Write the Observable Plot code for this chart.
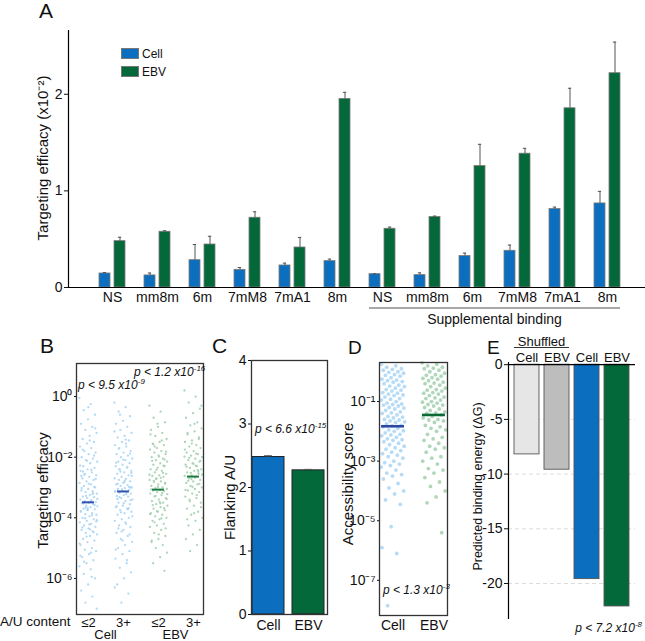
<!DOCTYPE html>
<html><head><meta charset="utf-8">
<script src="https://cdn.jsdelivr.net/npm/d3@7"></script>
<script src="https://cdn.jsdelivr.net/npm/@observablehq/plot@0.6"></script>
<style>
body{margin:0;background:#fff;}
#fig{position:relative;width:645px;height:641px;overflow:hidden;font-family:Arial,"Liberation Sans",Helvetica,sans-serif;color:#111;}
#fig svg{position:absolute;overflow:visible;}
.t{position:absolute;white-space:nowrap;line-height:1;}
.p{font-style:italic;font-size:12px;}
.p sup{font-size:8px;vertical-align:baseline;position:relative;top:-5px;}
</style></head><body><div id="fig"></div>
<script>
// ---------- Panel A data ----------
const groupLabels = ["NS","mm8m","6m","7mM8","7mA1","8m","NS","mm8m","6m","7mM8","7mA1","8m"];
const supplementalBinding = [false,false,false,false,false,false,true,true,true,true,true,true];
const cellEfficacy = [0.145,0.125,0.283,0.183,0.228,0.273,0.138,0.128,0.325,0.380,0.812,0.870];
const cellError    = [0.010,0.025,0.162,0.024,0.024,0.021,0.004,0.024,0.031,0.059,0.020,0.125];
const ebvEfficacy  = [0.480,0.577,0.445,0.722,0.414,1.952,0.608,0.729,1.257,1.385,1.855,2.218];
const ebvError     = [0.040,0.010,0.085,0.062,0.104,0.068,0.017,0.010,0.225,0.055,0.207,0.322];
const seriesNames = ["Cell","EBV"];

// ---------- Panel B data (log10 targeting efficacy) ----------
const auContent = ["≤2","3+","≤2","3+"];
const auSource = ["Cell","Cell","EBV","EBV"];
const cellLowAU = [-0.05,-0.25,-0.45,-0.6,-0.75,-0.9,-1.0,-1.1,-1.2,-1.3,-1.4,-1.5,-1.55,-1.65,-1.7,-1.8,-1.85,-1.9,-2.0,-2.05,-2.1,-2.15,-2.2,-2.3,-2.35,-2.4,-2.45,-2.5,-2.55,-2.6,-2.65,-2.7,-2.75,-2.8,-2.85,-2.9,-2.95,-3.0,-3.05,-3.1,-3.12,-3.15,-3.2,-3.25,-3.3,-3.32,-3.35,-3.4,-3.42,-3.45,-3.48,-3.5,-3.52,-3.55,-3.6,-3.62,-3.65,-3.7,-3.72,-3.75,-3.8,-3.85,-3.88,-3.9,-3.95,-4.0,-4.05,-4.1,-4.15,-4.2,-4.25,-4.3,-4.35,-4.4,-4.45,-4.5,-4.55,-4.6,-4.7,-4.75,-4.8,-4.9,-5.0,-5.05,-5.1,-5.2,-5.3,-5.4,-5.5,-5.6,-5.7,-5.85,-6.0,-6.2,-6.4,-6.6,-6.8,-7.0,
  -1.45,-1.75,-1.95,-2.12,-2.28,-2.42,-2.58,-2.72,-2.88,-3.02,-3.18,-3.28,-3.38,-3.46,-3.53,-3.58,-3.68,-3.78,-3.92,-4.02,-4.12,-4.22,-4.32,-4.48,-4.62,-4.85,-5.15,-5.45,-1.05,-0.35,-2.62,-3.22,-3.66,-4.08,-4.38,-2.48,-2.98,-3.74,-5.25,-5.95];
const cellHighAU = [-0.2,-0.35,-0.5,-0.65,-0.8,-0.9,-1.0,-1.1,-1.2,-1.3,-1.35,-1.45,-1.5,-1.6,-1.65,-1.7,-1.8,-1.85,-1.9,-1.95,-2.0,-2.05,-2.1,-2.15,-2.2,-2.25,-2.3,-2.35,-2.4,-2.45,-2.5,-2.55,-2.6,-2.65,-2.7,-2.72,-2.75,-2.8,-2.85,-2.9,-2.92,-2.95,-3.0,-3.02,-3.05,-3.08,-3.1,-3.12,-3.15,-3.18,-3.2,-3.25,-3.28,-3.3,-3.35,-3.4,-3.45,-3.5,-3.55,-3.6,-3.65,-3.7,-3.75,-3.8,-3.85,-3.9,-4.0,-4.05,-4.1,-4.2,-4.25,-4.3,-4.4,-4.5,-4.6,-4.7,-4.8,-4.9,-5.0,-5.1,-5.2,-5.35,-5.5,-5.65,-5.8,-6.0,-6.2,-6.5,-6.8,
  -1.15,-1.42,-1.72,-1.88,-2.08,-2.18,-2.32,-2.48,-2.62,-2.78,-2.88,-2.98,-3.06,-3.14,-3.22,-3.32,-3.42,-3.52,-3.62,-3.72,-3.82,-3.95,-4.15,-4.35,-4.55,-4.75,-5.05,-5.4,-0.6,-2.52,-2.82,-3.38,-3.68,-4.45,-6.3,-1.55,-2.4,-3.0];
const ebvLowAU = [-0.3,-0.5,-0.7,-0.85,-1.0,-1.1,-1.2,-1.3,-1.4,-1.5,-1.55,-1.6,-1.7,-1.75,-1.8,-1.85,-1.9,-1.95,-2.0,-2.05,-2.1,-2.15,-2.2,-2.25,-2.3,-2.35,-2.4,-2.45,-2.5,-2.55,-2.6,-2.62,-2.65,-2.7,-2.75,-2.8,-2.82,-2.85,-2.9,-2.95,-3.0,-3.02,-3.05,-3.08,-3.1,-3.12,-3.15,-3.2,-3.25,-3.3,-3.35,-3.4,-3.45,-3.5,-3.55,-3.6,-3.65,-3.7,-3.75,-3.8,-3.85,-3.9,-3.95,-4.0,-4.05,-4.1,-4.2,-4.25,-4.3,-4.4,-4.5,-4.6,-4.7,-4.8,-4.9,-5.0,-5.15,-5.3,-5.5,-5.75,
  -0.9,-1.25,-1.45,-1.65,-1.82,-1.98,-2.12,-2.28,-2.42,-2.58,-2.68,-2.78,-2.88,-2.98,-3.06,-3.18,-3.28,-3.38,-3.48,-3.58,-3.68,-3.78,-3.88,-4.02,-4.15,-4.35,-4.55,-4.75,-2.52,-2.72,-3.22,-3.52,-1.58,-2.08];
const ebvHighAU = [0.2,0.0,-0.2,-0.4,-0.55,-0.7,-0.85,-0.95,-1.05,-1.15,-1.25,-1.35,-1.45,-1.5,-1.6,-1.65,-1.7,-1.8,-1.85,-1.9,-1.95,-2.0,-2.05,-2.1,-2.15,-2.2,-2.25,-2.3,-2.35,-2.4,-2.45,-2.5,-2.55,-2.6,-2.62,-2.65,-2.7,-2.75,-2.8,-2.85,-2.9,-2.95,-3.0,-3.05,-3.1,-3.15,-3.2,-3.3,-3.35,-3.4,-3.5,-3.6,-3.7,-3.8,-3.9,-4.0,-4.1,-4.25,-4.4,-4.55,-4.7,-4.9,-5.1,
  -0.3,-0.9,-1.2,-1.4,-1.55,-1.75,-1.88,-2.02,-2.12,-2.22,-2.32,-2.42,-2.52,-2.58,-2.68,-2.78,-2.88,-2.98,-3.08,-3.25,-3.45,-3.65,-3.85,-4.05,-2.48,-2.72,-1.98,-2.28];
const auMedians = [3.24e-4, 7.4e-4, 8.5e-4, 2.29e-3];

// ---------- Panel C data ----------
const flankingAU = [2.48, 2.27];
const flankingErr = [0.02, 0.015];

// ---------- Panel D data (log10 accessibility) ----------
const accessCell = [0.25,0.2,0.15,0.1,0.08,0.05,0.0,-0.02,-0.05,-0.1,-0.12,-0.15,-0.2,-0.25,-0.28,-0.3,-0.33,-0.35,-0.4,-0.45,-0.48,-0.5,-0.55,-0.6,-0.62,-0.65,-0.7,-0.72,-0.75,-0.78,-0.8,-0.85,-0.9,-0.92,-0.95,-1.0,-1.05,-1.08,-1.1,-1.12,-1.15,-1.2,-1.22,-1.25,-1.3,-1.35,-1.38,-1.4,-1.45,-1.5,-1.52,-1.55,-1.6,-1.62,-1.65,-1.68,-1.7,-1.75,-1.8,-1.82,-1.85,-1.9,-1.95,-1.98,-2.0,-2.05,-2.1,-2.12,-2.15,-2.2,-2.25,-2.28,-2.3,-2.35,-2.4,-2.45,-2.5,-2.55,-2.6,-2.65,-2.7,-2.75,-2.8,-2.85,-2.9,-3.0,-3.05,-3.1,-3.15,-3.2,-3.3,-3.4,-3.45,-3.5,-3.6,-3.75,-3.9,-4.0,-4.1,-4.3,-4.45,-5.2,-5.9,-6.1,-7.85];
const accessEbv = [0.3,0.25,0.2,0.15,0.12,0.1,0.05,0.0,-0.05,-0.1,-0.12,-0.15,-0.2,-0.22,-0.25,-0.3,-0.35,-0.38,-0.4,-0.45,-0.5,-0.55,-0.6,-0.62,-0.65,-0.7,-0.72,-0.75,-0.8,-0.85,-0.88,-0.9,-0.95,-1.0,-1.02,-1.05,-1.1,-1.12,-1.15,-1.2,-1.25,-1.3,-1.35,-1.38,-1.4,-1.45,-1.5,-1.55,-1.6,-1.62,-1.65,-1.7,-1.8,-1.85,-1.9,-1.95,-2.0,-2.1,-2.2,-2.25,-2.3,-2.4,-2.5,-2.55,-2.6,-2.7,-2.85,-2.9,-3.0,-3.1,-3.25,-3.3,-3.4,-3.55,-3.7,-3.85,-4.0,-4.2,-4.4,-5.4];
const accessMedians = [0.0148, 0.0355];

// ---------- Panel E data ----------
const energyLabels = ["Cell","EBV","Cell","EBV"];
const energyShuffled = [true, true, false, false];
const energyValues = [-8.2, -9.6, -19.6, -22.1];

// ---------- styles ----------
const FONT = 'Arial, "Liberation Sans", Helvetica, sans-serif';
const blue = "#0b6ebf", green = "#04693a";
const lightBlue = "#a9d5f5", lightGreen = "#a3d0ae";
const fig = document.getElementById("fig");
const SUP = {"-":"⁻","0":"⁰","1":"¹","2":"²","3":"³","4":"⁴","5":"⁵","6":"⁶","7":"⁷","8":"⁸","9":"⁹"};
const pow10 = d => "10" + String(Math.round(Math.log10(d))).split("").map(c => SUP[c]).join("");
const jitter = i => ((i * 0.6180339887) % 1) - 0.5;
const plain = d => String(d);

function place(svg, left, top) { svg.style.left = left + "px"; svg.style.top = top + "px"; fig.appendChild(svg); return svg; }
function addText(html, x, cy, size, align = "left", cls = "") {
  const d = document.createElement("div");
  d.className = "t " + cls;
  d.innerHTML = html;
  d.style.fontSize = size + "px";
  d.style.left = x + "px";
  d.style.top = (cy - 0.49 * size) + "px";
  if (align === "center") d.style.transform = "translateX(-50%)";
  if (align === "right") d.style.transform = "translateX(-100%)";
  fig.appendChild(d);
  return d;
}
function addBox(x, y, w, h, bg, border) {
  const d = document.createElement("div");
  d.style.cssText = `position:absolute;left:${x}px;top:${y}px;width:${w}px;height:${h}px;background:${bg};${border ? "border:" + border + ";box-sizing:border-box;" : ""}`;
  fig.appendChild(d);
  return d;
}
const yTitle = (label, dx, dy, size) =>
  Plot.text([label], {text: d => d, frameAnchor: "left", textAnchor: "middle", lineAnchor: "middle", rotate: -90, dx, dy, fontSize: size});

// ---------- Panel A ----------
const rowsA = groupLabels.map((g, i) => ({i, cell: cellEfficacy[i], cellErr: cellError[i], ebv: ebvEfficacy[i], ebvErr: ebvError[i]}));
const plotA = Plot.plot({
  width: 645, height: 330, marginLeft: 68, marginRight: 0, marginTop: 30, marginBottom: 43,
  style: {fontFamily: FONT, background: "transparent", color: "#111"},
  x: {type: "band", domain: d3.range(12), paddingInner: 0.414, paddingOuter: 0.53, align: 0.555},
  y: {domain: [0, 2.66]},
  marks: [
    Plot.barY(rowsA, {x: "i", y: "cell", fill: blue, stroke: "#7a7a7a", strokeWidth: 0.8, insetRight: 15}),
    Plot.barY(rowsA, {x: "i", y: "ebv", fill: green, stroke: "#7a7a7a", strokeWidth: 0.8, insetLeft: 15}),
    Plot.ruleX(rowsA, {x: "i", y1: "cell", y2: d => d.cell + d.cellErr, dx: -7.5, stroke: "#555"}),
    Plot.ruleX(rowsA, {x: "i", y1: "ebv", y2: d => d.ebv + d.ebvErr, dx: 7.5, stroke: "#555"}),
    Plot.tickY(rowsA, {x: "i", y: d => d.cell + d.cellErr, insetLeft: 3.8, insetRight: 18.9, stroke: "#555"}),
    Plot.tickY(rowsA, {x: "i", y: d => d.ebv + d.ebvErr, insetLeft: 18.9, insetRight: 3.8, stroke: "#555"}),
    Plot.frame({anchor: "left", stroke: "#000", strokeWidth: 1.2}),
    Plot.ruleY([0], {stroke: "#000", strokeWidth: 1.2}),
    Plot.axisY({ticks: [0, 1, 2], tickFormat: plain, tickSize: 4, tickPadding: 2, fontSize: 14, label: null}),
    Plot.axisX({tickSize: 0, tickPadding: 5, fontSize: 14, tickFormat: i => groupLabels[i], label: null}),
    yTitle("Targeting efficacy (x10⁻²)", -25, -1, 15)
  ]
});
place(plotA, 0, 0);
{
  const xs = plotA.scale("x");
  const supIdx = supplementalBinding.map((s, i) => s ? i : -1).filter(i => i >= 0);
  const x0 = xs.apply(supIdx[0]), x1 = xs.apply(supIdx[supIdx.length - 1]) + xs.bandwidth;
  addBox(x0, 307, x1 - x0, 2, "#a8a8a8");
  addText("Supplemental binding", (x0 + x1) / 2, 319, 14, "center");
}
// legend
addBox(121, 48, 18, 11, blue, "1px solid #777");
addBox(121, 66, 18, 11, green, "1px solid #777");
addText(seriesNames[0], 142, 53.5, 12);
addText(seriesNames[1], 142, 71.5, 12);

// ---------- Panel B ----------
const colsB = [cellLowAU, cellHighAU, ebvLowAU, ebvHighAU];
const rowsB = [];
colsB.forEach((arr, c) => arr.forEach((v, i) => rowsB.push({c, v: Math.pow(10, v), j: jitter(i), src: auSource[c]})));
const medB = auMedians.map((v, c) => ({c, v, src: auSource[c]}));
const plotB = Plot.plot({
  width: 215, height: 311, marginLeft: 76, marginRight: 12, marginTop: 33, marginBottom: 27,
  style: {fontFamily: FONT, background: "transparent", color: "#111"},
  x: {domain: [-0.343, 3.286]},
  y: {type: "log", domain: [Math.pow(10, -7.19), Math.pow(10, 1.09)]},
  marks: [
    Plot.dot(rowsB.filter(d => d.src === "Cell"), {x: d => d.c + d.j * 0.52, y: "v", r: 1.15, fill: lightBlue, fillOpacity: 0.9}),
    Plot.dot(rowsB.filter(d => d.src === "EBV"), {x: d => d.c + d.j * 0.52, y: "v", r: 1.15, fill: lightGreen, fillOpacity: 0.9}),
    Plot.ruleY(medB, {y: "v", x1: d => d.c - 0.17, x2: d => d.c + 0.17, stroke: d => d.src === "Cell" ? "#2d50aa" : "#1a7a3e", strokeWidth: 2}),
    Plot.frame({stroke: "#333", strokeWidth: 1.3}),
    Plot.axisY({ticks: [1, 1e-2, 1e-4, 1e-6], tickFormat: pow10, tickSize: 2, tickPadding: 2, fontSize: 14, label: null}),
    Plot.axisX({ticks: [0, 1, 2, 3], tickFormat: i => auContent[i], tickSize: 0, tickPadding: 3, fontSize: 13, label: null}),
    yTitle("Targeting efficacy", -33, 1.5, 15)
  ]
});
place(plotB, 0, 330);
addText("A/U content", 0, 622, 13.5);
{
  const xs = plotB.scale("x");
  addText(auSource[0], xs.apply(0.5), 634.5, 13, "center");
  addText(auSource[2], xs.apply(2.5), 634.5, 13, "center");
}
addText("p &lt; 9.5 x10<sup>-9</sup>", 78, 385, 12, "left", "p");
addText("p &lt; 1.2 x10<sup>-16</sup>", 134, 371.5, 12, "left", "p");

// ---------- Panel C ----------
const rowsC = seriesNames.map((s, i) => ({s, v: flankingAU[i], e: flankingErr[i]}));
const plotC = Plot.plot({
  width: 125, height: 311, marginLeft: 46, marginRight: 3, marginTop: 30, marginBottom: 27,
  style: {fontFamily: FONT, background: "transparent", color: "#111"},
  x: {domain: seriesNames, paddingInner: 0.2, paddingOuter: 0.05, align: 0.3},
  y: {domain: [0, 4]},
  color: {domain: seriesNames, range: [blue, green]},
  marks: [
    Plot.barY(rowsC, {x: "s", y: "v", fill: "s", stroke: "#222", strokeWidth: 1}),
    Plot.ruleX(rowsC, {x: "s", y1: "v", y2: d => d.v + d.e, stroke: "#555"}),
    Plot.tickY(rowsC, {x: "s", y: d => d.v + d.e, insetLeft: 12, insetRight: 12, stroke: "#555"}),
    Plot.frame({stroke: "#333", strokeWidth: 1.3}),
    Plot.axisY({ticks: [0, 1, 2, 3, 4], tickFormat: plain, tickSize: 3, tickPadding: 2, fontSize: 14, label: null}),
    Plot.axisX({tickSize: 0, tickPadding: 6, fontSize: 14, label: null}),
    yTitle("Flanking A/U", -21, 10, 15)
  ]
});
place(plotC, 205, 330);
addText("p &lt; 6.6 x10<sup>-15</sup>", 255, 428.5, 12, "left", "p");

// ---------- Panel D ----------
const rowsD = [];
[accessCell, accessEbv].forEach((arr, c) => arr.forEach((v, i) => rowsD.push({c, v: Math.pow(10, v), j: jitter(i)})));
const medD = accessMedians.map((v, c) => ({c, v}));
const plotD = Plot.plot({
  width: 125, height: 311, marginLeft: 49, marginRight: 8, marginTop: 32, marginBottom: 26,
  style: {fontFamily: FONT, background: "transparent", color: "#111"},
  x: {domain: [-0.33, 1.33]},
  y: {type: "log", domain: [Math.pow(10, -8.18), Math.pow(10, 0.31)]},
  marks: [
    Plot.dot(rowsD.filter(d => d.c === 0), {x: d => d.c + d.j * 0.58, y: "v", r: 1.9, fill: lightBlue, fillOpacity: 0.85}),
    Plot.dot(rowsD.filter(d => d.c === 1), {x: d => d.c + d.j * 0.58, y: "v", r: 1.9, fill: lightGreen, fillOpacity: 0.85}),
    Plot.ruleY(medD, {y: "v", x1: d => d.c - 0.28, x2: d => d.c + 0.28, stroke: d => d.c === 0 ? "#2a48a4" : "#0b6b37", strokeWidth: 2.6}),
    Plot.frame({stroke: "#333", strokeWidth: 1.3}),
    Plot.axisY({ticks: [1e-1, 1e-3, 1e-5, 1e-7], tickFormat: pow10, tickSize: 2, tickPadding: 2, fontSize: 14, label: null}),
    Plot.axisX({ticks: [0, 1], tickFormat: i => seriesNames[i], tickSize: 0, tickPadding: 5, fontSize: 14, label: null}),
    yTitle("Accessibility score", -31, -5, 15)
  ]
});
place(plotD, 330, 330);
addText("p &lt; 1.3 x10<sup>-3</sup>", 383, 590, 12, "left", "p");

// ---------- Panel E ----------
const energyColors = ["#e6e6e6", "#bdbdbd", blue, green];
const rowsE = energyValues.map((v, i) => ({i, v, label: energyLabels[i], fillc: energyColors[i]}));
const plotE = Plot.plot({
  width: 190, height: 311, marginLeft: 53, marginRight: 10, marginTop: 32, marginBottom: 23,
  style: {fontFamily: FONT, background: "transparent", color: "#111"},
  x: {type: "band", domain: d3.range(4), paddingInner: 0.17, paddingOuter: 0.15, align: 0.5, axis: null},
  y: {domain: [-23.2, 0.2]},
  color: {type: "identity"},
  marks: [
    Plot.ruleY([-5, -10, -15, -20], {stroke: "#dcdcdc", strokeDasharray: "4,3"}),
    Plot.barY(rowsE, {x: "i", y: "v", fill: "fillc", stroke: "#555", strokeWidth: 0.9}),
    Plot.frame({anchor: "left", stroke: "#000", strokeWidth: 1.2}),
    Plot.ruleY([0], {stroke: "#000", strokeWidth: 1.2}),
    Plot.axisY({ticks: [0, -5, -10, -15, -20], tickFormat: plain, tickSize: 4, tickPadding: 2, fontSize: 14, label: null}),
    Plot.text(rowsE, {x: "i", y: () => 0, text: "label", dy: -6.5, fontSize: 13}),
    yTitle("Predicted binding energy (ΔG)", -31, -4, 12.5)
  ]
});
place(plotE, 455, 330);
{
  const xs = plotE.scale("x");
  const idx = energyShuffled.map((s, i) => s ? i : -1).filter(i => i >= 0);
  const x0 = 455 + xs.apply(idx[0]), x1 = 455 + xs.apply(idx[idx.length - 1]) + xs.bandwidth;
  addBox(x0, 346.5, x1 - x0, 1, "#333");
  addText("Shuffled", (x0 + x1) / 2, 341, 13, "center");
}
addText("p &lt; 7.2 x10<sup>-8</sup>", 642, 627.5, 12, "right", "p");

// ---------- Panel letters ----------
addText("A", 39, 10.6, 21);
addText("B", 40, 345.5, 21);
addText("C", 212, 345.5, 21);
addText("D", 348, 347.5, 19);
addText("E", 487, 347.5, 19);
</script></body></html>
